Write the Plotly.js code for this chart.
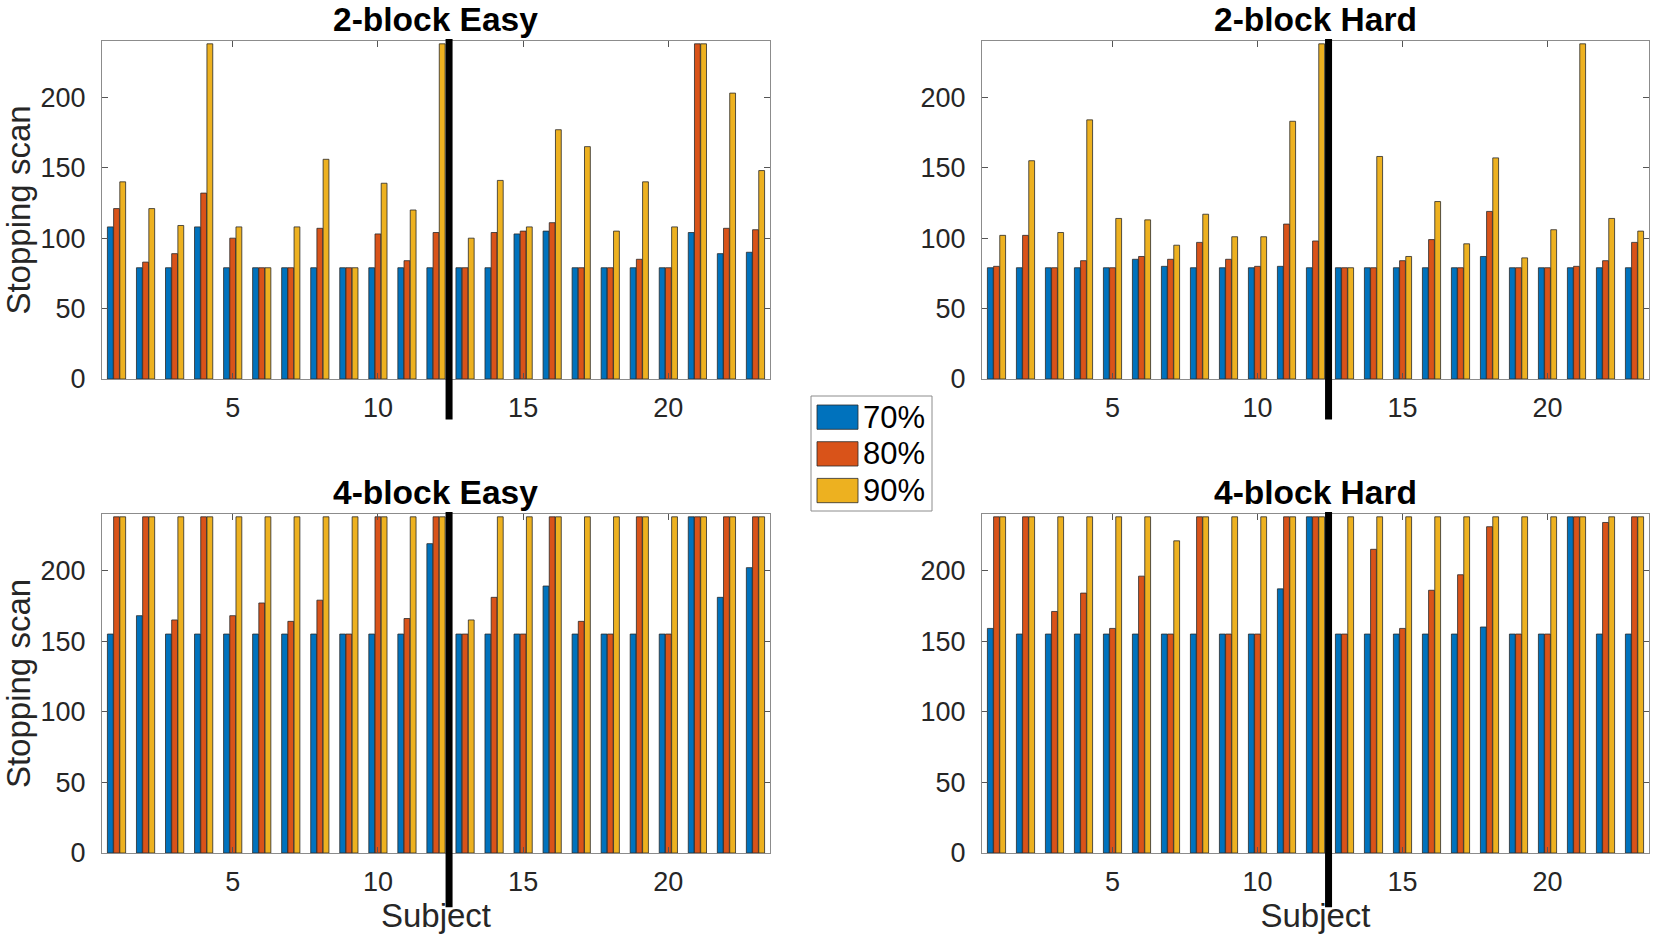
<!DOCTYPE html>
<html>
<head>
<meta charset="utf-8">
<script src="https://cdn.plot.ly/plotly-3.0.1.min.js"></script>
<style>
  html, body { margin: 0; padding: 0; background: #fff; }
  #chart { width: 1655px; height: 944px; }
</style>
</head>
<body>
<div id="chart"></div>
<script>
// subjects on the x axis
var subjects = [1, 2, 3, 4, 5, 6, 7, 8, 9, 10, 11, 12, 13, 14, 15, 16, 17, 18, 19, 20, 21, 22, 23];
var seriesNames = ['70%', '80%', '90%'];
var panelTitles = ['2-block Easy', '2-block Hard', '4-block Easy', '4-block Hard'];
var yTicks = [0, 50, 100, 150, 200];
var xTicks = [5, 10, 15, 20];

// stopping scan values
var easy2_70 = [108, 79, 79, 108, 79, 79, 79, 79, 79, 79, 79, 79, 79, 79, 103, 105, 79, 79, 79, 79, 104, 89, 90];
var easy2_80 = [121, 83, 89, 132, 100, 79, 79, 107, 79, 103, 84, 104, 79, 104, 105, 111, 79, 79, 85, 79, 238, 107, 106];
var easy2_90 = [140, 121, 109, 238, 108, 79, 108, 156, 79, 139, 120, 238, 100, 141, 108, 177, 165, 105, 140, 108, 238, 203, 148];

var hard2_70 = [79, 79, 79, 79, 79, 85, 80, 79, 79, 79, 80, 79, 79, 79, 79, 79, 79, 87, 79, 79, 79, 79, 79];
var hard2_80 = [80, 102, 79, 84, 79, 87, 85, 97, 85, 80, 110, 98, 79, 79, 84, 99, 79, 119, 79, 79, 80, 84, 97];
var hard2_90 = [102, 155, 104, 184, 114, 113, 95, 117, 101, 101, 183, 238, 79, 158, 87, 126, 96, 157, 86, 106, 238, 114, 105];

var easy4_70 = [155, 168, 155, 155, 155, 155, 155, 155, 155, 155, 155, 219, 155, 155, 155, 189, 155, 155, 155, 155, 238, 181, 202];
var easy4_80 = [238, 238, 165, 238, 168, 177, 164, 179, 155, 238, 166, 238, 155, 181, 155, 238, 164, 155, 238, 155, 238, 238, 238];
var easy4_90 = [238, 238, 238, 238, 238, 238, 238, 238, 238, 238, 238, 238, 165, 238, 238, 238, 238, 238, 238, 238, 238, 238, 238];

var hard4_70 = [159, 155, 155, 155, 155, 155, 155, 155, 155, 155, 187, 238, 155, 155, 155, 155, 155, 160, 155, 155, 238, 155, 155];
var hard4_80 = [238, 238, 171, 184, 159, 196, 155, 238, 155, 155, 238, 238, 155, 215, 159, 186, 197, 231, 155, 155, 238, 234, 238];
var hard4_90 = [238, 238, 238, 238, 238, 238, 221, 238, 238, 238, 238, 238, 238, 238, 238, 238, 238, 238, 238, 238, 238, 238, 238];

var colors = ['#0072BD', '#D95319', '#EDB120'];
var splitAt = 12.45; // divider between subject 12 and 13

var W = 1655, H = 944;
var FONT = '"Liberation Sans", Arial, Helvetica, sans-serif';

// panel boxes in pixels: [left, right, top, bottom]
var boxes = [
  [102, 770, 41, 379],
  [982, 1649, 41, 379],
  [102, 770, 514, 853],
  [982, 1649, 514, 853]
];

var panelData = [
  [easy2_70, easy2_80, easy2_90],
  [hard2_70, hard2_80, hard2_90],
  [easy4_70, easy4_80, easy4_90],
  [hard4_70, hard4_80, hard4_90]
];

var traces = [];
var layout = {
  width: W,
  height: H,
  margin: {l: 0, r: 0, t: 0, b: 0},
  paper_bgcolor: '#fff',
  plot_bgcolor: '#fff',
  barmode: 'group',
  bargap: 0.36,
  bargroupgap: 0.06,
  showlegend: false,
  font: {family: FONT, size: 27, color: '#262626'},
  shapes: [],
  annotations: []
};

panelData.forEach(function (series, p) {
  var xa = p === 0 ? 'x' : 'x' + (p + 1);
  var ya = p === 0 ? 'y' : 'y' + (p + 1);
  series.forEach(function (vals, s) {
    traces.push({
      type: 'bar',
      x: subjects,
      y: vals,
      name: seriesNames[s],
      xaxis: xa,
      yaxis: ya,
      marker: {color: colors[s], line: {color: '#2a2a2a', width: 0.8}},
      hoverinfo: 'x+y+name'
    });
  });

  var b = boxes[p];
  var axisKey = p === 0 ? '' : String(p + 1);
  layout['xaxis' + axisKey] = {
    domain: [b[0] / W, b[1] / W],
    anchor: ya,
    range: [0.5, 23.5],
    tickvals: xTicks,
    ticks: 'inside',
    ticklen: 6,
    tickcolor: '#555',
    ticklabelstandoff: 5,
    showline: true,
    linecolor: '#8c8c8c',
    linewidth: 1,
    mirror: 'ticks',
    showgrid: false,
    zeroline: false,
    tickfont: {size: 27, color: '#262626'},
    title: p >= 2 ? {text: 'Subject', font: {size: 33, color: '#262626'}, standoff: 6} : {text: ''}
  };
  layout['yaxis' + axisKey] = {
    domain: [1 - b[3] / H, 1 - b[2] / H],
    anchor: xa,
    range: [0, 240],
    tickvals: yTicks,
    ticks: 'inside',
    ticklen: 6,
    tickcolor: '#555',
    ticklabelstandoff: 10,
    showline: true,
    linecolor: '#8c8c8c',
    linewidth: 1,
    mirror: 'ticks',
    showgrid: false,
    zeroline: false,
    tickfont: {size: 27, color: '#262626'},
    title: (p % 2 === 0) ? {text: 'Stopping scan', font: {size: 33, color: '#262626'}, standoff: 8} : {text: ''}
  };

  // thick divider line
  layout.shapes.push({
    type: 'line',
    xref: xa,
    yref: ya + ' domain',
    x0: splitAt, x1: splitAt,
    y0: p < 2 ? -0.12 : -0.16,
    y1: 1.006,
    line: {color: '#000', width: 7},
    layer: 'above'
  });

  // panel title
  layout.annotations.push({
    text: '<b>' + panelTitles[p] + '</b>',
    xref: 'paper', yref: 'paper',
    x: (b[0] + b[1]) / 2 / W,
    y: 1 - (b[2] - 22) / H,
    xanchor: 'center', yanchor: 'middle',
    showarrow: false,
    font: {size: 33.5, color: '#000'}
  });
});

// legend box in the middle of the figure
var leg = {left: 811, right: 932, top: 396, bottom: 511};
layout.shapes.push({
  type: 'rect', xref: 'paper', yref: 'paper',
  x0: leg.left / W, x1: leg.right / W,
  y0: 1 - leg.bottom / H, y1: 1 - leg.top / H,
  line: {color: '#8c8c8c', width: 1},
  fillcolor: '#fff'
});
seriesNames.forEach(function (name, s) {
  var top = 405 + s * 36.7;
  var bot = top + 24.3;
  layout.shapes.push({
    type: 'rect', xref: 'paper', yref: 'paper',
    x0: 817 / W, x1: 858 / W,
    y0: 1 - bot / H, y1: 1 - top / H,
    line: {color: '#2a2a2a', width: 0.8},
    fillcolor: colors[s]
  });
  layout.annotations.push({
    text: name,
    xref: 'paper', yref: 'paper',
    x: 861 / W, y: 1 - (top + bot) / 2 / H,
    xanchor: 'left', yanchor: 'middle',
    showarrow: false,
    font: {size: 31, color: '#000'}
  });
});

Plotly.newPlot('chart', traces, layout, {displayModeBar: false, staticPlot: true});
</script>
</body>
</html>
